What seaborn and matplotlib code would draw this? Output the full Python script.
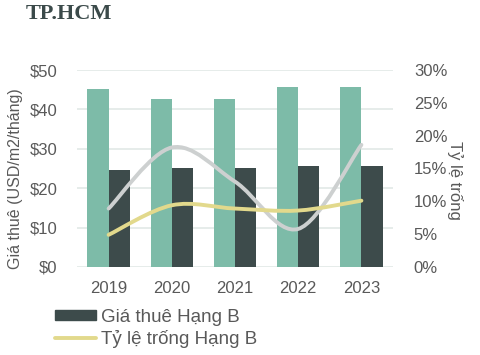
import matplotlib
matplotlib.use("Agg")
import matplotlib.pyplot as plt
import seaborn as sns
import pandas as pd
import numpy as np
from matplotlib.path import Path
from matplotlib.patches import PathPatch, Patch
from matplotlib.lines import Line2D
from matplotlib.ticker import FuncFormatter, MultipleLocator

years = ["2019", "2020", "2021", "2022", "2023"]
rent_a = [45.1, 42.7, 42.7, 45.8, 45.8]
rent_b = [24.6, 25.2, 25.2, 25.6, 25.6]
vac_a = [8.9, 18.2, 13.0, 5.8, 18.6]
vac_b = [4.9, 9.4, 8.9, 8.6, 10.1]

title = "TP.HCM"
ylabel_left = "Giá thuê (USD/m2/tháng)"
ylabel_right = "Tỷ lệ trống"
label_rent_b = "Giá thuê Hạng B"
label_vac_b = "Tỷ lệ trống Hạng B"

c_a = "#7dbba8"
c_b = "#3d4b4b"
c_vac_a = "#cdd0d0"
c_vac_b = "#e2d98c"
txt = "#595959"

sns.set_theme(style="white")
plt.rcParams["font.family"] = ["Liberation Sans", "DejaVu Sans"]

df = pd.DataFrame({
    "year": years * 2,
    "rent": rent_a + rent_b,
    "grade": ["A"] * 5 + ["B"] * 5,
})

fig = plt.figure(figsize=(4.81, 3.55), dpi=100)
ax = fig.add_axes([77 / 481, 88 / 355, 316 / 481, 197 / 355])

sns.barplot(data=df, x="year", y="rent", hue="grade", palette=[c_a, c_b],
            width=0.67, ax=ax, legend=False, saturation=1, gap=0,
            linewidth=0, edgecolor="none")
ax.set_xlim(-0.5, 4.5)
ax.set_ylim(0, 50)
ax.yaxis.set_major_locator(MultipleLocator(10))
ax.yaxis.set_major_formatter(FuncFormatter(lambda v, p: f"${v:.0f}"))
ax.grid(axis="y", color="#e4ebe8", linewidth=1.3)
ax.set_axisbelow(True)
for s in ax.spines.values():
    s.set_visible(False)
ax.tick_params(axis="both", length=0, labelsize=12, colors=txt)
ax.tick_params(axis="y", pad=14)
ax.tick_params(axis="x", pad=10)
ax.set_xlabel("")
ax.set_ylabel(ylabel_left, fontsize=11.5, color=txt, va="center", ha="center")
ax.yaxis.set_label_coords(-0.196, 0.45)

ax2 = ax.twinx()
ax2.set_ylim(0, 30)
ax2.yaxis.set_major_locator(MultipleLocator(5))
ax2.yaxis.set_major_formatter(FuncFormatter(lambda v, p: f"{v:.0f}%"))
for s in ax2.spines.values():
    s.set_visible(False)
ax2.tick_params(axis="y", length=0, labelsize=12, colors=txt, pad=15)
ax2.set_ylabel(ylabel_right, fontsize=12, color=txt, rotation=-90,
               va="center", ha="center")
ax2.yaxis.set_label_coords(1.196, 0.44)


def smooth_path(xs, ys):
    pts = np.column_stack([xs, ys]).astype(float)
    n = len(pts)
    verts = [pts[0]]
    codes = [Path.MOVETO]
    for i in range(n - 1):
        p0 = pts[max(i - 1, 0)]
        p1 = pts[i]
        p2 = pts[i + 1]
        p3 = pts[min(i + 2, n - 1)]
        c1 = p1 + (p2 - p0) / 6.0
        c2 = p2 - (p3 - p1) / 6.0
        verts += [c1, c2, p2]
        codes += [Path.CURVE4] * 3
    return Path(verts, codes)


xpos = np.arange(len(years))
for vals, col in [(vac_a, c_vac_a), (vac_b, c_vac_b)]:
    patch = PathPatch(smooth_path(xpos, vals), facecolor="none", edgecolor=col,
                      linewidth=2.8, capstyle="round", transform=ax2.transData)
    ax2.add_patch(patch)

fig.text(26 / 481, 1 - 14 / 355, title, fontsize=16, fontweight="bold",
         family=["Liberation Serif", "DejaVu Serif"], color="#3b4a4a", va="center")

handles = [Patch(facecolor=c_b, edgecolor=c_b),
           Line2D([0], [0], color=c_vac_b, linewidth=2.8)]
fig.legend(handles, [label_rent_b, label_vac_b], loc="upper left",
           bbox_to_anchor=(51 / 481, 1 - 305 / 355), frameon=False,
           fontsize=13.5, handlelength=2.2, handleheight=0.5,
           handletextpad=0.25, labelspacing=0.2, labelcolor=txt,
           borderaxespad=0, borderpad=0.2)

fig.savefig("out.png", dpi=100)
